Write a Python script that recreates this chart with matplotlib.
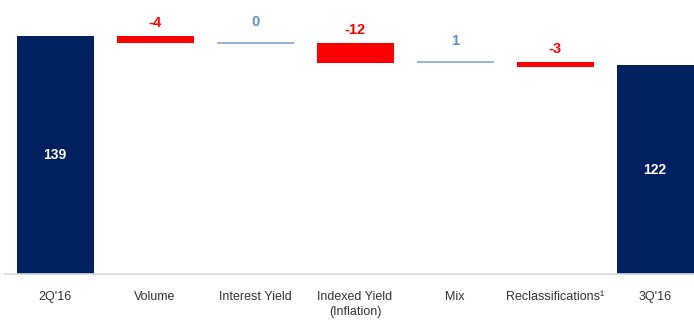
import matplotlib
matplotlib.use("Agg")
import matplotlib.pyplot as plt
from matplotlib import font_manager

# Data
categories = ["2Q'16", "Volume", "Interest Yield", "Indexed Yield\n(Inflation)",
              "Mix", "Reclassifications¹", "3Q'16"]
start_value = 139
end_value = 122
steps = [-4, 0, -12, 1, -3]

navy = "#002060"
red = "#FF0000"
light_blue = "#8EA9DB"
label_blue = "#5B8BD0"

names = {f.name for f in font_manager.fontManager.ttflist}
font = "Liberation Sans Narrow" if "Liberation Sans Narrow" in names else "Liberation Sans"
plt.rcParams['font.family'] = [font, 'DejaVu Sans']

fig = plt.figure(figsize=(6.94, 3.2), dpi=100)
ax = fig.add_axes([5 / 694, 46 / 320, 689 / 694, 274 / 320])

w = 0.77
# totals
for x, v in [(0, start_value), (6, end_value)]:
    ax.bar(x, v, width=w, color=navy)
    ax.text(x, v / 2, str(v), color="white", fontsize=10, fontweight="bold",
            ha="center", va="center")

# steps
level = start_value
for i, s in enumerate(steps):
    x = i + 1
    new_level = level + s
    if abs(s) <= 1:
        y = new_level if s > 0 else level
        ax.hlines(y, x - w / 2, x + w / 2, color=light_blue, lw=1.3)
        top = y
        col = label_blue
        off = 10
    else:
        ax.bar(x, s, bottom=level, width=w, color=red)
        top = level
        col = red
        off = 4
    ax.annotate(str(s), (x, top), xytext=(0, off), textcoords="offset points",
                ha="center", va="bottom", color=col, fontsize=10.5, fontweight="bold")
    level = new_level

ax.set_xlim(-0.5, 6.39)
ax.set_ylim(0, 160)
ax.set_xticks(range(len(categories)))
ax.set_xticklabels(categories, fontsize=9, color="#333333", linespacing=1.35)
ax.tick_params(axis="x", length=0, pad=12)
ax.set_yticks([])
for sp in ["top", "right", "left"]:
    ax.spines[sp].set_visible(False)
ax.spines["bottom"].set_color("#D9D9D9")
ax.spines["bottom"].set_linewidth(1.2)

fig.savefig("out.png", dpi=100)
